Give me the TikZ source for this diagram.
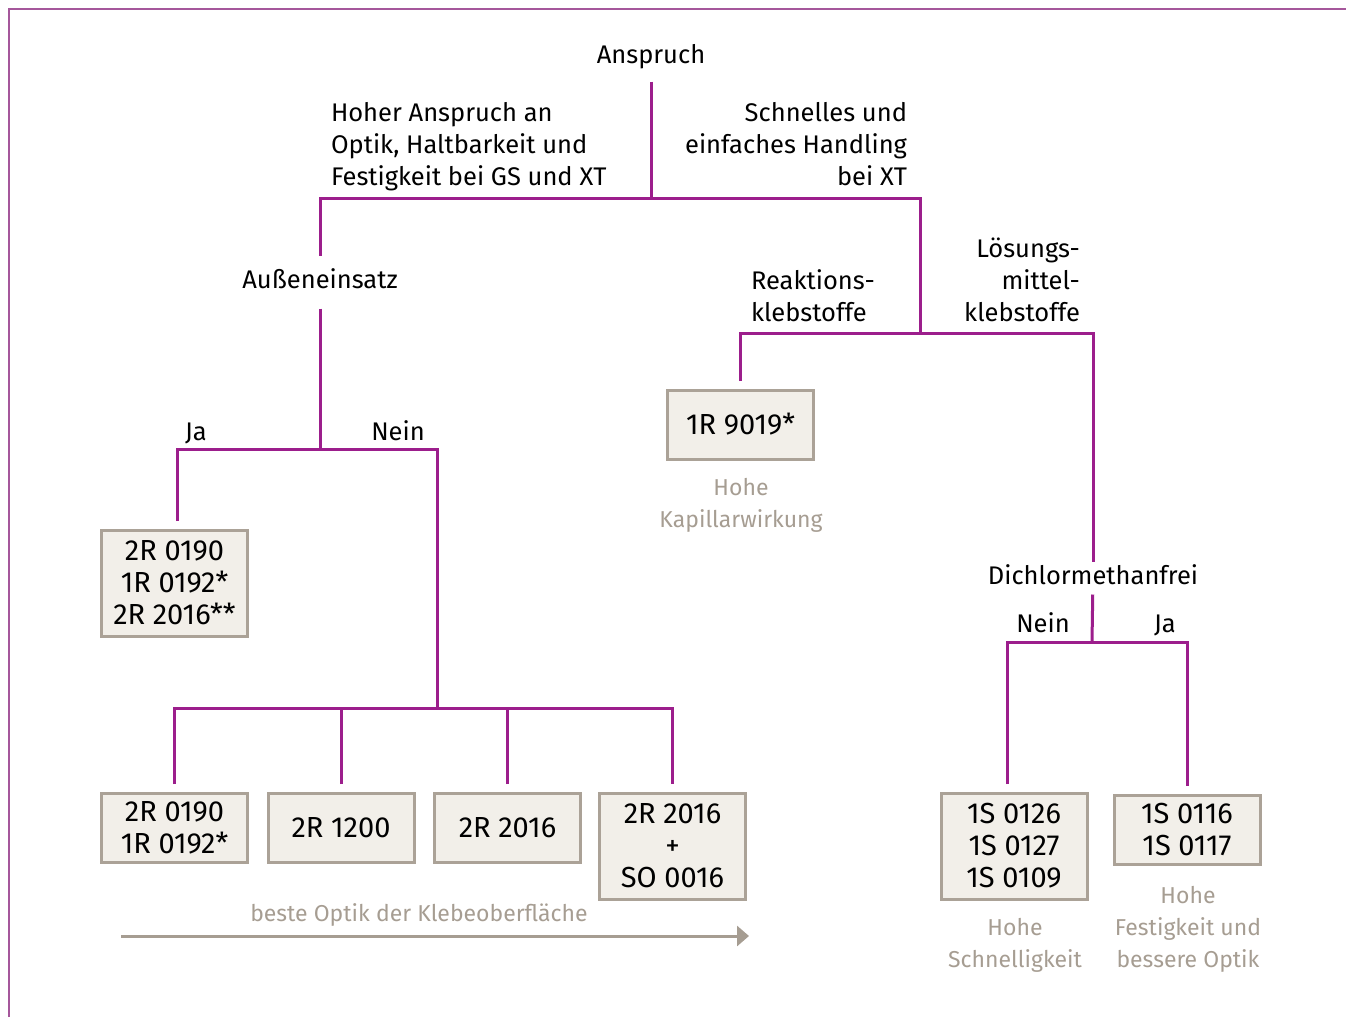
\documentclass[tikz,border=0pt]{standalone}
\usepackage{fontspec}
\setmainfont{Fira Sans}
\usetikzlibrary{arrows.meta}

\definecolor{lila}{HTML}{9C1E8C}
\definecolor{rahmen}{HTML}{A5579B}
\definecolor{grau}{HTML}{A69D92}
\definecolor{kasten}{HTML}{F2EFE9}
\definecolor{kastenrand}{HTML}{ABA297}

\tikzset{
  lbl/.style={font=\fontsize{25.5}{32}\selectfont, inner sep=0pt, outer sep=8pt},
  lbl1/.style={lbl, text height=18pt, text depth=5pt},
  hinweis/.style={lbl, font=\fontsize{23}{32}\selectfont, text=grau, align=center},
  kiste/.style={lbl, font=\fontsize{29}{32}\selectfont, draw=kastenrand, fill=kasten,
    line width=3pt, align=center, minimum width=146pt, minimum height=69pt,
    inner ysep=8.5pt, anchor=north, outer sep=9pt},
  kiste3/.style={kiste, minimum height=106pt},
  ast/.style={draw=lila, line width=3pt},
  pfeil/.style={draw=grau, line width=3pt, -{Triangle[length=12pt,width=20pt]}},
}

\begin{document}
\begin{tikzpicture}[x=1pt,y=-1pt]
  \useasboundingbox (0,0) rectangle (1346,1017);
  % Rahmen
  \draw[rahmen, line width=2pt] (9,1017) -- (9,9) -- (1346,9);

  % Anspruch
  \node[lbl1, outer sep=13pt] (anspruch) at (651,57) {Anspruch};
  \node[lbl, align=left, anchor=west] (optik) at (323,147) {Hoher Anspruch an\\Optik, Haltbarkeit und\\Festigkeit bei GS und XT};
  \node[lbl, align=right, anchor=east] (handling) at (915,144) {Schnelles und\\einfaches Handling\\bei XT};
  \coordinate (j1) at (651,198);
  \coordinate (j2) at (920,333);

  % linker Zweig
  \node[lbl1, outer sep=15pt] (aussen) at (320,282) {Außeneinsatz};
  \node[lbl1] (ja1) at (196,434) {Ja};
  \node[lbl1] (nein1) at (398,434) {Nein};
  \coordinate (j3) at (320,449);
  \coordinate (j4) at (437,708);
  \node[kiste3] (ja) at (174.5,521) {2R 0190\\1R 0192*\\2R 2016**};

  \node[kiste] (b1) at (174.5,784) {2R 0190\\1R 0192*};
  \node[kiste] (b2) at (341,784) {2R 1200};
  \node[kiste] (b3) at (507.5,784) {2R 2016};
  \node[kiste3] (b4) at (672.5,784) {2R 2016\\+\\SO 0016};
  \node[hinweis, text height=16pt, text depth=5pt] (optiktxt) at (419,916) {beste Optik der Klebeoberfläche};
  \coordinate (pfeilA) at (121,936);
  \coordinate (pfeilB) at (749,936);

  % rechter Zweig
  \node[lbl, align=left, anchor=west] (reaktion) at (743,296) {Reaktions-\\klebstoffe};
  \node[lbl, align=right, anchor=east] (loesung) at (1088,280) {Lösungs-\\mittel-\\klebstoffe};
  \node[kiste] (r9019) at (740.5,381) {1R 9019*};
  \node[hinweis] (kapillar) at (741,505) {Hohe\\Kapillarwirkung};
  \node[lbl1, outer sep=5pt] (dichlor) at (1093,578) {Dichlormethanfrei};
  \node[lbl1] (nein2) at (1043,626) {Nein};
  \node[lbl1] (ja2) at (1165,626) {Ja};
  \coordinate (j5) at (1092,642);
  \node[kiste3] (s1) at (1014,784) {1S 0126\\1S 0127\\1S 0109};
  \node[kiste] (s2) at (1187,786) {1S 0116\\1S 0117};
  \node[hinweis] (schnell) at (1015,945) {Hohe\\Schnelligkeit};
  \node[hinweis] (fest) at (1188,929) {Hohe\\Festigkeit und\\bessere Optik};

  % Verbindungen
  \draw[ast] (anspruch) -- (j1);
  \draw[ast] (aussen) |- (j1) -| (j2);
  \draw[ast] (r9019) |- (j2) -| (dichlor);
  \draw[ast] (aussen) -- (j3);
  \draw[ast] ([xshift=2.5pt]ja.north) |- (j3) -| (j4);
  \draw[ast] (b1) |- (j4) -| (b4);
  \draw[ast] (b2) -- (b2 |- j4);
  \draw[ast] (b3) -- (b3 |- j4);
  \draw[ast] (dichlor) -- (j5);
  \draw[ast] ([xshift=-7pt]s1.north) |- (j5) -| (s2);
  \draw[pfeil] (pfeilA) -- (pfeilB);
\end{tikzpicture}
\end{document}
